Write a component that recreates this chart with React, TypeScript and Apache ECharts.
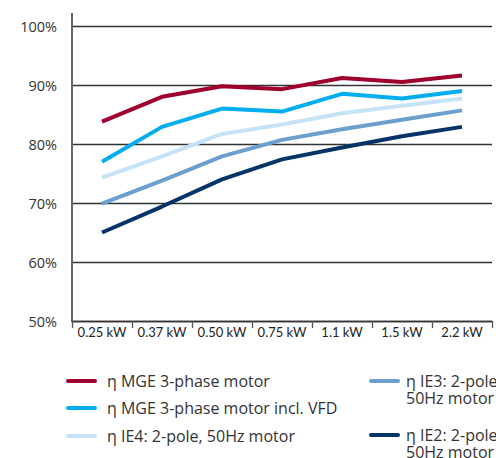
import React, { useEffect, useRef } from "react";
import * as echarts from "echarts";

const categories = ["0.25 kW", "0.37 kW", "0.50 kW", "0.75 kW", "1.1 kW", "1.5 kW", "2.2 kW"];
const yTicks = [50, 60, 70, 80, 90, 100];

const mgeMotor = [83.8, 88.0, 89.8, 89.3, 91.2, 90.5, 91.6];
const mgeVfd = [77.0, 82.9, 86.0, 85.5, 88.5, 87.7, 89.0];
const ie4 = [74.3, 77.9, 81.7, 83.3, 85.2, 86.5, 87.7];
const ie3 = [69.9, 73.8, 77.9, 80.7, 82.5, 84.1, 85.7];
const ie2 = [65.0, 69.4, 74.0, 77.4, 79.4, 81.3, 82.9];

const seriesNames = [
  "η MGE 3-phase motor",
  "η MGE 3-phase motor incl. VFD",
  "η IE4: 2-pole, 50Hz motor",
  "η IE3: 2-pole, 50Hz motor",
  "η IE2: 2-pole, 50Hz motor",
];
// legend label lines (wrapped as in the reference)
const legendLines = [
  ["η MGE 3-phase motor"],
  ["η MGE 3-phase motor incl. VFD"],
  ["η IE4: 2-pole, 50Hz motor"],
  ["η IE3: 2-pole,", "50Hz motor"],
  ["η IE2: 2-pole,", "50Hz motor"],
];
const seriesData = [mgeMotor, mgeVfd, ie4, ie3, ie2];
const colors = ["#a0002e", "#00adef", "#c6e2f6", "#6b9fcf", "#063466"];

const FONT = "'Open Sans', sans-serif";

export default function App() {
  const ref = useRef<HTMLDivElement>(null);
  useEffect(() => {
    if (!ref.current) return;
    const chart = echarts.init(ref.current, null, { renderer: "svg" });

    const legendPos = [
      { lx: 68, tx: 107, y: 381 },
      { lx: 68, tx: 107, y: 408 },
      { lx: 68, tx: 107, y: 436 },
      { lx: 371, tx: 406, y: 381 },
      { lx: 371, tx: 406, y: 435 },
    ];
    const legendGraphics: any[] = [];
    seriesNames.forEach((_name, i) => {
      const p = legendPos[i];
      legendGraphics.push({
        type: "line",
        shape: { x1: p.lx, y1: p.y, x2: p.lx + 27, y2: p.y },
        style: { stroke: colors[i], lineWidth: 4, lineCap: "round" },
        silent: true,
      });
      legendLines[i].forEach((t, j) => {
        legendGraphics.push({
          type: "text",
          x: p.tx,
          y: p.y + j * 17,
          style: {
            text: t,
            fill: "#333",
            font: `16px ${FONT}`,
            verticalAlign: "middle",
            textAlign: "left",
          },
          silent: true,
        });
      });
    });
    // y axis extension above the top gridline
    legendGraphics.push({
      type: "line",
      shape: { x1: 72, y1: 13, x2: 72, y2: 27 },
      style: { stroke: "#666", lineWidth: 2 },
      silent: true,
    });

    chart.setOption({
      animation: false,
      grid: { left: 72, right: 4, top: 26, bottom: 137, containLabel: false },
      xAxis: {
        type: "category",
        data: categories,
        boundaryGap: true,
        axisLine: { show: true, lineStyle: { color: "#333", width: 1.3 } },
        axisTick: { show: true, length: 7, interval: 0, lineStyle: { color: "#555", width: 1.3 } },
        axisLabel: {
          color: "#222",
          fontSize: 13,
          fontFamily: "Lato, sans-serif",
          margin: 4,
          interval: 0,
          hideOverlap: false,
        },
        splitLine: { show: false },
      },
      yAxis: {
        type: "value",
        min: yTicks[0],
        max: yTicks[yTicks.length - 1],
        interval: 10,
        axisLine: { show: true, lineStyle: { color: "#666", width: 2 } },
        axisTick: { show: false },
        axisLabel: {
          color: "#333",
          fontSize: 14.5,
          fontFamily: FONT,
          margin: 15,
          formatter: (v: number) => `${v}%`,
        },
        splitLine: { show: true, lineStyle: { color: "#333", width: 1.3 } },
      },
      series: seriesData.map((d, i) => ({
        name: seriesNames[i],
        type: "line",
        data: d,
        symbol: "none",
        lineStyle: { color: colors[i], width: 4 },
        itemStyle: { color: colors[i] },
        z: 10 - i,
      })),
      graphic: legendGraphics,
    });
    return () => chart.dispose();
  }, []);
  return <div ref={ref} style={{ width: 496, height: 458, position: "absolute", left: 0, top: 0 }} />;
}
